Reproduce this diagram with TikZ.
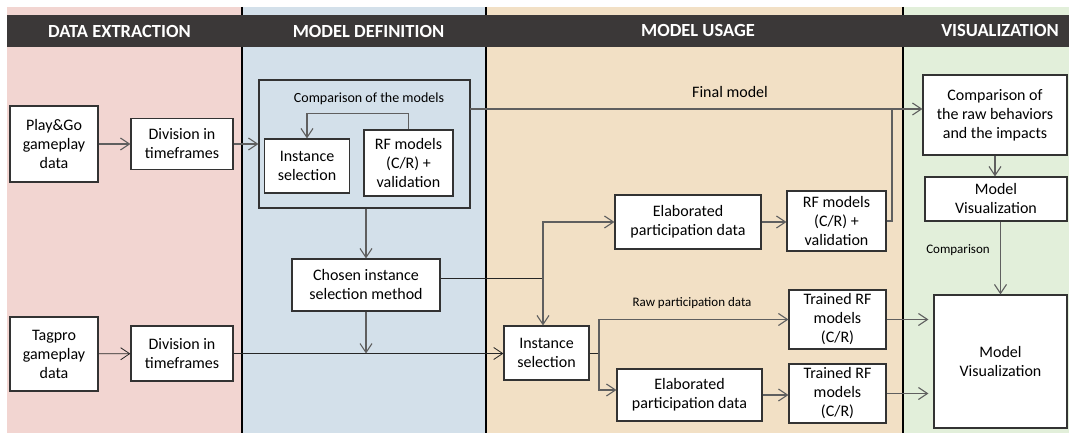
\documentclass[tikz,border=0pt]{standalone}
\usepackage{fontspec}
\setmainfont{Carlito}
\usetikzlibrary{arrows.meta}
\definecolor{bgext}{HTML}{F2D5D1}
\definecolor{bgdef}{HTML}{D3E0EA}
\definecolor{bguse}{HTML}{F2E0C5}
\definecolor{bgvis}{HTML}{E2EFDA}
\definecolor{headbar}{HTML}{3B3838}
\definecolor{wiregray}{HTML}{5F5F5F}
\tikzset{
  box/.style={draw=black!80, line width=1.2pt, fill=white, align=center, inner sep=1pt,
    font=\fontsize{16}{19}\selectfont},
  wire/.style={draw=wiregray, line width=1.1pt},
  darkwire/.style={draw=black!85, line width=0.8pt},
  link/.style={wire, -{Straight Barb[length=9pt,width=12pt]}},
  lbl/.style={font=\fontsize{13}{15}\selectfont},
  head/.style={text=white, font=\fontsize{18.5}{20}\selectfont\bfseries},
}
\begin{document}
\begin{tikzpicture}[x=1pt,y=-1pt]
     \useasboundingbox (0,0) rectangle (1069,433);
     \fill[bgext] (7,7) rectangle (242,433);
     \fill[bgdef] (242,7) rectangle (486,433);
     \fill[bguse] (486,7) rectangle (903,433);
     \fill[bgvis] (903,7) rectangle (1069,433);
     \draw[line width=2pt] (242,7) -- (242,433);
     \draw[line width=2pt] (486,7) -- (486,433);
     \draw[line width=2pt] (903,7) -- (903,433);
     \fill[headbar] (7,15) rectangle (1069,47);
     \node[head] (hdext) at (119.5,31) {DATA EXTRACTION};
     \node[head] (hddef) at (368.5,31) {MODEL DEFINITION};
     \node[head] (hduse) at (698,31) {MODEL USAGE};
     \node[head] (hdvis) at (1000,31) {VISUALIZATION};

     \node[box, minimum width=88pt, minimum height=76pt] (playgo) at (54,144) {Play\&Go\\gameplay\\data};
     \node[box, minimum width=102pt, minimum height=51pt] (divone) at (182,144) {Division in\\timeframes};
     \node[draw=black!80, line width=1.2pt, minimum width=211pt, minimum height=128pt] (defbox) at (364.5,144) {};
     \node[lbl, font=\fontsize{14}{16}\selectfont] (cmplbl) at (369,99) {Comparison of the models};
     \node[box, minimum width=85pt, minimum height=54pt] (instone) at (307,166) {Instance\\selection};
     \node[box, minimum width=89pt, minimum height=66pt] (rfone) at (408.5,163) {RF models\\(C/R) +\\validation};
     \node[box, minimum width=148pt, minimum height=52pt] (chosen) at (366,285) {Chosen instance\\selection method};

     \node[box, minimum width=88pt, minimum height=74pt] (tagpro) at (54,354) {Tagpro\\gameplay\\data};
     \node[box, minimum width=102pt, minimum height=55pt] (divtwo) at (182,353.5) {Division in\\timeframes};
     \node[box, minimum width=85pt, minimum height=54pt] (insttwo) at (546.5,353) {Instance\\selection};

     \node[box, minimum width=146pt, minimum height=54pt] (elabone) at (688,222) {Elaborated\\participation data};
     \node[box, minimum width=99pt, minimum height=60pt] (rftwo) at (836.5,221) {RF models\\(C/R) +\\validation};
     \node[box, minimum width=97pt, minimum height=59pt] (trfone) at (837.5,319.5) {Trained RF\\models\\(C/R)};
     \node[box, minimum width=145pt, minimum height=52pt] (elabtwo) at (689.5,395) {Elaborated\\participation data};
     \node[box, minimum width=97pt, minimum height=59pt] (trftwo) at (837.5,393.5) {Trained RF\\models\\(C/R)};

     \node[box, minimum width=144pt, minimum height=80pt] (cmpraw) at (995,115) {Comparison of\\the raw behaviors\\and the impacts};
     \node[box, minimum width=142pt, minimum height=44pt] (mvsmall) at (996,199) {Model\\Visualization};
     \node[box, minimum width=133pt, minimum height=133pt] (mvbig) at (1000.5,361.5) {Model\\Visualization};

     \draw[link] (playgo) -- (divone);
     \draw[link] (divone.east) -- (divone.east -| defbox.west);
     \draw[link] (rfone.north) -- ++(0,-16) -| (instone.north);
     \draw[link] (defbox.south -| chosen) -- (chosen);

     \coordinate (final) at (470,109);
     \coordinate (finaljoin) at (892,109);
     \draw[link] (final) -- (final -| cmpraw.west);
     \node[font=\fontsize{16}{19}\selectfont] (finallbl) at (730,92) {Final model};
     \draw[wire] (rftwo.east) -| (finaljoin);

     \coordinate (usage) at (543,278);
     \draw[darkwire] ([yshift=7pt]chosen.east) -- (usage);
     \draw[link] (usage) -- (usage |- insttwo.north);
     \draw[link] (usage) |- (elabone.west);
     \draw[link] (elabone.east) -- (elabone.east -| rftwo.west);

     \draw[link, darkwire] (tagpro) -- (divtwo);
     \draw[link, darkwire] (divtwo.east) -- (divtwo.east -| insttwo.west);
     \draw[link] (chosen.south) -- (chosen.south |- divtwo.east);

     \coordinate (fork) at (599,353);
     \draw[darkwire] (insttwo.east) -- (fork);
     \draw[link] (fork) |- (trfone.west);
     \node[lbl] (rawlbl) at (692,303) {Raw participation data};
     \draw[link] (fork) |- ([yshift=5pt]elabtwo.west);
     \draw[link] (elabtwo.east) -- (elabtwo.east -| trftwo.west);

     \draw[link, shorten >=5pt] (trfone.east) -- (trfone.east -| mvbig.west);
     \draw[link, shorten >=5pt] (trftwo.east) -- (trftwo.east -| mvbig.west);
     \draw[link] (cmpraw.south) -- (cmpraw.south |- mvsmall.north);
     \draw[link] (mvsmall.south -| mvbig) -- (mvbig.north);
     \node[lbl] (cmpvislbl) at (958,250) {Comparison};
    \end{tikzpicture}
\end{document}
